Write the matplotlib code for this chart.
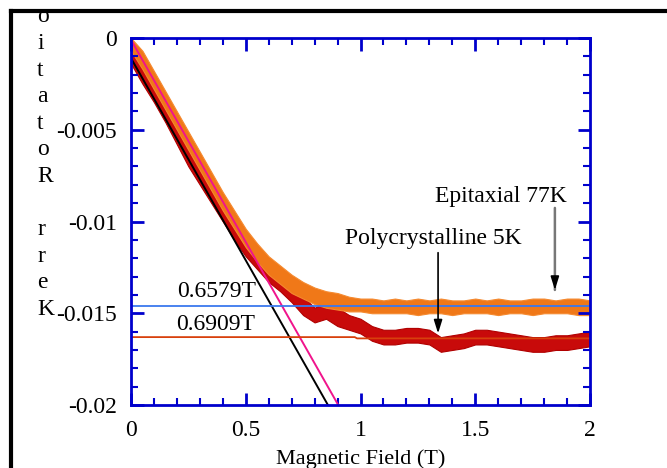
import matplotlib
matplotlib.use("Agg")
import matplotlib.pyplot as plt
from matplotlib.lines import Line2D
from matplotlib.ticker import MultipleLocator

plt.rcParams['font.family'] = ['Liberation Serif', 'DejaVu Serif']
plt.rcParams['axes.unicode_minus'] = False

field = [0.00, 0.05, 0.10, 0.15, 0.20, 0.25, 0.30, 0.35, 0.40, 0.45,
         0.50, 0.55, 0.60, 0.65, 0.70, 0.75, 0.80, 0.85, 0.90, 0.95,
         1.00, 1.05, 1.10, 1.15, 1.20, 1.25, 1.30, 1.35, 1.40, 1.45,
         1.50, 1.55, 1.60, 1.65, 1.70, 1.75, 1.80, 1.85, 1.90, 1.95, 2.00]

# epitaxial 77K (orange), upper / lower edge of the noisy trace
epi_upper = [0.0000, -0.0007, -0.0018, -0.0029, -0.0040, -0.0051, -0.0062, -0.0073, -0.0084, -0.0094,
             -0.0104, -0.0112, -0.0119, -0.0124, -0.0129, -0.0133, -0.0136, -0.0138, -0.0139, -0.0141,
             -0.0142, -0.0142, -0.0143, -0.0142, -0.0143, -0.0142, -0.0143, -0.0142, -0.0143, -0.0143,
             -0.0142, -0.0143, -0.0142, -0.0143, -0.0143, -0.0142, -0.0142, -0.0143, -0.0142, -0.0142, -0.0143]
epi_lower = [-0.0007, -0.0017, -0.0028, -0.0039, -0.0050, -0.0061, -0.0072, -0.0083, -0.0094, -0.0104,
             -0.0114, -0.0122, -0.0129, -0.0134, -0.0139, -0.0142, -0.0145, -0.0147, -0.0148, -0.0149,
             -0.0149, -0.0150, -0.0150, -0.0150, -0.0150, -0.0151, -0.0150, -0.0150, -0.0151, -0.0150,
             -0.0150, -0.0150, -0.0151, -0.0150, -0.0150, -0.0151, -0.0150, -0.0150, -0.0150, -0.0151, -0.0151]

# polycrystalline 5K (dark red)
poly_upper = [-0.0004, -0.0013, -0.0022, -0.0033, -0.0044, -0.0056, -0.0068, -0.0078, -0.0088, -0.0098,
              -0.0107, -0.0116, -0.0123, -0.0128, -0.0134, -0.0141, -0.0147, -0.0144, -0.0147, -0.0151,
              -0.0153, -0.0157, -0.0159, -0.0159, -0.0158, -0.0158, -0.0159, -0.0163, -0.0162, -0.0161,
              -0.0159, -0.0159, -0.0160, -0.0161, -0.0162, -0.0163, -0.0163, -0.0162, -0.0162, -0.0161, -0.0160]
poly_lower = [-0.0014, -0.0025, -0.0035, -0.0046, -0.0058, -0.0070, -0.0080, -0.0090, -0.0100, -0.0110,
              -0.0119, -0.0126, -0.0133, -0.0138, -0.0144, -0.0151, -0.0155, -0.0153, -0.0157, -0.0159,
              -0.0161, -0.0165, -0.0167, -0.0167, -0.0166, -0.0166, -0.0167, -0.0171, -0.0170, -0.0169,
              -0.0167, -0.0167, -0.0168, -0.0169, -0.0170, -0.0171, -0.0171, -0.0170, -0.0170, -0.0169, -0.0168]

# straight-line fits to the low-field slopes
fit_epi_x = [0.0, 0.903]
fit_epi_y = [-0.0001, -0.0200]
fit_poly_x = [0.0, 0.858]
fit_poly_y = [-0.0011, -0.0200]

# saturation levels
sat_epi_x = [0.0, 2.0]
sat_epi_y = [-0.0146, -0.0146]
sat_poly_x = [0.0, 0.975, 0.985, 2.0]
sat_poly_y = [-0.0163, -0.0163, -0.01637, -0.01637]

xtick_vals = [0, 0.5, 1, 1.5, 2]
xtick_labels = ['0', '0.5', '1', '1.5', '2']
ytick_vals = [-0.02, -0.015, -0.01, -0.005, 0]
ytick_labels = ['-0.02', '-0.015', '-0.01', '-0.005', '0']

# vertical label, letters stacked bottom-up; the last letter is cropped off in the original
ylabel_letters = list('Kerr Rotatio')

W, H = 667, 468
fig = plt.figure(figsize=(W / 100, H / 100), dpi=100)
ax = fig.add_axes([131 / W, 1 - 405 / H, 459 / W, 367 / H])

ax.fill_between(field, poly_lower, poly_upper, color='#c80a0a', lw=0.8, edgecolor='#b00000')
ax.fill_between(field, epi_lower, epi_upper, color='#f07818', lw=0.8, edgecolor='#f58a30')
ax.plot(fit_epi_x, fit_epi_y, color='#f0148c', lw=1.4)
ax.plot(fit_poly_x, fit_poly_y, color='black', lw=1.4)
ax.plot(sat_epi_x, sat_epi_y, color='#3a78ee', lw=1.3)
ax.plot(sat_poly_x, sat_poly_y, color='#d8400c', lw=1.3)

ax.set_xlim(0, 2)
ax.set_ylim(-0.02, 0)
ax.set_xticks(xtick_vals)
ax.set_xticklabels(xtick_labels)
ax.set_yticks(ytick_vals)
ax.set_yticklabels(ytick_labels)
ax.xaxis.set_minor_locator(MultipleLocator(0.1))
ax.yaxis.set_minor_locator(MultipleLocator(0.001))

blue = '#0000cc'
for s in ax.spines.values():
    s.set_color(blue)
    s.set_linewidth(2)
ax.tick_params(which='both', direction='in', top=True, right=True,
               color=blue, labelcolor='black', labelsize=17)
ax.tick_params(which='major', length=9, width=2)
ax.tick_params(which='minor', length=5, width=1.5)
ax.tick_params(axis='y', pad=10)
ax.tick_params(axis='x', pad=11)
ax.set_xlabel('Magnetic Field (T)', fontsize=16, labelpad=6)

# annotations
ax.text(0.375, -0.01384, '0.6579T', fontsize=17, ha='center', va='center')
ax.text(0.37, -0.01564, '0.6909T', fontsize=17, ha='center', va='center')
ax.text(1.316, -0.01095, 'Polycrystalline 5K', fontsize=17, ha='center', va='center')
ax.text(1.612, -0.00866, 'Epitaxial 77K', fontsize=17, ha='center', va='center')
ax.annotate('', xy=(1.338, -0.0161), xytext=(1.338, -0.0117),
            arrowprops=dict(arrowstyle='-|>,head_length=0.8,head_width=0.25',
                            color='black', lw=1.2, shrinkA=0, shrinkB=0))
ax.annotate('', xy=(1.847, -0.01373), xytext=(1.847, -0.00926),
            arrowprops=dict(arrowstyle='-', color='#777777', lw=1.8, shrinkA=0, shrinkB=0))
ax.annotate('', xy=(1.847, -0.01373), xytext=(1.847, -0.0130),
            arrowprops=dict(arrowstyle='-|>,head_length=0.8,head_width=0.25',
                            color='black', lw=1.2, shrinkA=0, shrinkB=0))

for i, ch in enumerate(ylabel_letters):
    fig.text(37 / W, 1 - (315 - i * 26.6) / H, ch, fontsize=17,
             ha='left', va='baseline')

# outer frame (cropped)
fig.add_artist(Line2D([11 / W, 1], [1 - 11 / H, 1 - 11 / H], color='black', lw=3))
fig.add_artist(Line2D([11 / W, 11 / W], [0, 1 - 11 / H], color='black', lw=3))

fig.savefig('out.png', dpi=100)
